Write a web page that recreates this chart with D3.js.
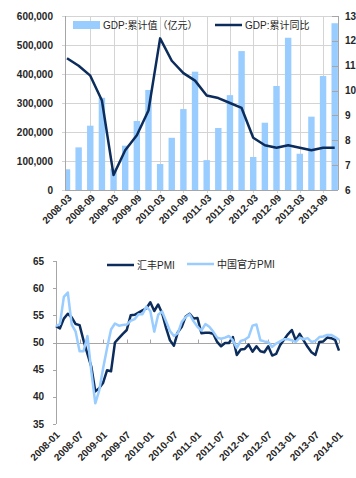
<!DOCTYPE html>
<html><head><meta charset="utf-8">
<script src="https://cdnjs.cloudflare.com/ajax/libs/d3/7.8.5/d3.min.js"></script>
<style>
html,body{margin:0;padding:0;background:#fff;}
svg{display:block;font-family:"Liberation Sans",Arial,"Noto Sans CJK SC",sans-serif;}
</style></head>
<body><svg id="c" width="356" height="478"></svg>
<script>
// ---------- DATA ----------
const quarters = ["2008-03","2008-06","2008-09","2008-12","2009-03","2009-06","2009-09","2009-12",
  "2010-03","2010-06","2010-09","2010-12","2011-03","2011-06","2011-09","2011-12",
  "2012-03","2012-06","2012-09","2012-12","2013-03","2013-06","2013-09","2013-12"];
const gdpCum = [71400,147000,221700,318000,74000,152800,238000,345000,
  89700,180000,279000,408000,103000,213800,327000,479000,
  113800,232000,358600,525000,125000,252900,393000,575000];
const gdpYoY = [11.3,11.0,10.6,9.6,6.6,7.6,8.2,9.2,
  12.1,11.2,10.7,10.4,9.8,9.7,9.5,9.3,
  8.1,7.8,7.7,7.8,7.7,7.6,7.7,7.7];
const leftTicks = [0,100000,200000,300000,400000,500000,600000];
const rightTicks = [6,7,8,9,10,11,12,13];
const topLegend = ["GDP:累计值（亿元）","GDP:累计同比"];

const months = d3.range(73).map(i => { const y = 2008 + Math.floor(i/12), m = i%12 + 1; return y + "-" + (m<10?"0":"") + m; });
const hsbcPMI = [53.0,52.6,54.4,55.3,54.6,53.4,53.2,50.4,47.9,45.5,41.0,41.6,
  42.6,44.9,44.7,50.0,50.8,51.6,52.3,55.0,55.1,55.5,55.9,56.3,
  57.4,55.8,57.0,55.4,52.7,50.4,49.4,51.9,52.9,54.8,55.3,54.4,
  54.5,51.7,51.8,51.8,51.6,50.1,49.3,49.9,49.9,51.0,47.7,48.7,
  48.8,49.6,48.3,49.3,48.4,48.2,49.3,47.6,47.9,49.5,50.5,51.5,
  52.3,50.4,51.6,50.4,49.2,48.2,47.7,50.1,50.2,50.9,50.8,50.5,
  48.5];
const officialPMI = [53.0,53.4,58.4,59.2,53.3,52.0,48.4,48.4,51.2,44.6,38.8,41.2,
  45.3,49.0,52.4,53.5,53.1,53.2,53.3,54.0,54.3,55.2,55.2,56.6,
  55.8,52.0,55.1,55.7,53.9,52.1,51.2,51.7,53.8,54.7,55.2,53.9,
  52.9,52.2,53.4,52.9,52.0,50.9,50.7,50.9,51.2,50.4,49.0,50.3,
  50.5,51.0,53.1,53.3,50.4,50.2,50.1,49.2,49.8,50.2,50.6,50.6,
  50.4,50.1,50.9,50.6,50.8,50.1,50.3,51.0,51.1,51.4,51.4,51.0,
  50.5];
const pmiTicks = [35,40,45,50,55,60,65];
const bottomLegend = ["汇丰PMI","中国官方PMI"];

// ---------- STYLE ----------
const DARK = "#0c2c5c", LIGHT = "#99ccff", GRID = "#d4d4d4", AXIS = "#a6a6a6", TXT = "#262626";
const svg = d3.select("#c");

// ---------- TOP CHART ----------
const T = {l:65, r:338, t:16, b:190};
const xT = d3.scalePoint().domain(quarters).range([67, 334.7]);
const yL = d3.scaleLinear().domain([0,600000]).range([T.b, T.t]);
const yR = d3.scaleLinear().domain([6,13]).range([T.b, T.t]);

svg.append("defs").append("clipPath").attr("id","clipT")
  .append("rect").attr("x",T.l).attr("y",T.t-2).attr("width",T.r-T.l).attr("height",T.b-T.t+2);

const gT = svg.append("g");
// horizontal grid
gT.selectAll("line.hg").data(leftTicks).join("line")
  .attr("x1",T.l-3).attr("x2",T.r).attr("y1",d=>Math.round(yL(d))+0.5).attr("y2",d=>Math.round(yL(d))+0.5)
  .attr("stroke",GRID).attr("stroke-width",1);
// vertical grid at labelled categories
const labQ = quarters.filter((d,i)=>i%2===0);
gT.selectAll("line.vg").data(labQ.slice(1)).join("line")
  .attr("x1",d=>Math.round(xT(d))+0.5).attr("x2",d=>Math.round(xT(d))+0.5)
  .attr("y1",T.t).attr("y2",T.b+3).attr("stroke",GRID);
// bars
gT.append("g").attr("clip-path","url(#clipT)").selectAll("rect").data(quarters).join("rect")
  .attr("x",d=>xT(d)-3.2).attr("width",6.4)
  .attr("y",(d,i)=>yL(gdpCum[i])).attr("height",(d,i)=>T.b-yL(gdpCum[i]))
  .attr("fill",LIGHT);
// axes lines
gT.append("line").attr("x1",T.l+0.5).attr("x2",T.l+0.5).attr("y1",T.t).attr("y2",T.b).attr("stroke",AXIS);
gT.append("line").attr("x1",T.r+0.5).attr("x2",T.r+0.5).attr("y1",T.t).attr("y2",T.b).attr("stroke",AXIS);
gT.append("line").attr("x1",T.l).attr("x2",T.r).attr("y1",T.b+0.5).attr("y2",T.b+0.5).attr("stroke",AXIS);
// right inner ticks
gT.selectAll("line.rt").data(rightTicks).join("line")
  .attr("x1",T.r-6).attr("x2",T.r).attr("y1",d=>Math.round(yR(d))+0.5).attr("y2",d=>Math.round(yR(d))+0.5)
  .attr("stroke",AXIS);
// line
gT.append("path").datum(gdpYoY)
  .attr("d",d3.line().x((d,i)=>xT(quarters[i])).y(d=>yR(d)))
  .attr("fill","none").attr("stroke",DARK).attr("stroke-width",2.5).attr("stroke-linejoin","round");
// tick labels
gT.selectAll("text.yl").data(leftTicks).join("text")
  .attr("x",53).attr("y",d=>yL(d)).attr("dy","0.35em").attr("text-anchor","end")
  .attr("font-size",10).attr("font-weight","bold").attr("fill",TXT)
  .text(d=>d3.format(",")(d));
gT.selectAll("text.yr").data(rightTicks).join("text")
  .attr("x",345).attr("y",d=>yR(d)).attr("dy","0.35em").attr("text-anchor","start")
  .attr("font-size",10).attr("font-weight","bold").attr("fill",TXT)
  .text(d=>d);
gT.selectAll("text.xl").data(labQ).join("text")
  .attr("transform",d=>`translate(${xT(d)+3},${T.b+6}) rotate(-45)`)
  .attr("text-anchor","end").attr("dy","0.35em")
  .attr("font-size",10).attr("font-weight","bold").attr("fill",TXT)
  .text(d=>d);
// legend
gT.append("rect").attr("x",73).attr("y",21).attr("width",27).attr("height",8).attr("fill",LIGHT);
gT.append("text").attr("x",103).attr("y",25).attr("dy","0.35em").attr("font-size",10).attr("fill",TXT).text(topLegend[0]);
gT.append("line").attr("x1",215).attr("x2",242).attr("y1",25).attr("y2",25).attr("stroke",DARK).attr("stroke-width",2.5);
gT.append("text").attr("x",245).attr("y",25).attr("dy","0.35em").attr("font-size",10).attr("fill",TXT).text(topLegend[1]);

// ---------- BOTTOM CHART ----------
const B = {l:56, r:339, t:261, b:424};
const xB = d3.scalePoint().domain(months).range([B.l, B.r]);
const yB = d3.scaleLinear().domain([35,65]).range([B.b, B.t]);
const gB = svg.append("g");
// y axis
gB.append("line").attr("x1",B.l+0.5).attr("x2",B.l+0.5).attr("y1",B.t).attr("y2",B.b).attr("stroke",AXIS);
gB.selectAll("line.yt").data(pmiTicks).join("line")
  .attr("x1",B.l-3).attr("x2",B.l).attr("y1",d=>Math.round(yB(d))+0.5).attr("y2",d=>Math.round(yB(d))+0.5).attr("stroke",AXIS);
gB.selectAll("text.yl").data(pmiTicks).join("text")
  .attr("x",44).attr("y",d=>yB(d)).attr("dy","0.35em").attr("text-anchor","end")
  .attr("font-size",10).attr("font-weight","bold").attr("fill",TXT).text(d=>d);
// category axis crossing at 50
const y50 = Math.round(yB(50))+0.5;
gB.append("line").attr("x1",B.l).attr("x2",B.r).attr("y1",y50).attr("y2",y50).attr("stroke",AXIS);
const labM = months.filter((d,i)=>i%6===0);
gB.selectAll("line.xt").data(labM).join("line")
  .attr("x1",d=>Math.round(xB(d))+0.5).attr("x2",d=>Math.round(xB(d))+0.5)
  .attr("y1",y50-4).attr("y2",y50).attr("stroke",AXIS);
gB.selectAll("text.xl").data(labM).join("text")
  .attr("transform",d=>`translate(${xB(d)+2},${B.b+9}) rotate(-45)`)
  .attr("text-anchor","end").attr("dy","0.35em")
  .attr("font-size",10).attr("font-weight","bold").attr("fill",TXT).text(d=>d);
// lines
const lineB = d3.line().x((d,i)=>xB(months[i])).y(d=>yB(d));
gB.append("path").datum(hsbcPMI).attr("d",lineB).attr("fill","none")
  .attr("stroke",DARK).attr("stroke-width",2.5).attr("stroke-linejoin","round");
gB.append("path").datum(officialPMI).attr("d",lineB).attr("fill","none")
  .attr("stroke",LIGHT).attr("stroke-width",2.5).attr("stroke-linejoin","round");
// legend
gB.append("line").attr("x1",107).attr("x2",134).attr("y1",265).attr("y2",265).attr("stroke",DARK).attr("stroke-width",2.5);
gB.append("text").attr("x",137).attr("y",265).attr("dy","0.35em").attr("font-size",10).attr("fill",TXT).text(bottomLegend[0]);
gB.append("line").attr("x1",187).attr("x2",214).attr("y1",264).attr("y2",264).attr("stroke",LIGHT).attr("stroke-width",2.5);
gB.append("text").attr("x",217).attr("y",264).attr("dy","0.35em").attr("font-size",10).attr("fill",TXT).text(bottomLegend[1]);
</script></body></html>
